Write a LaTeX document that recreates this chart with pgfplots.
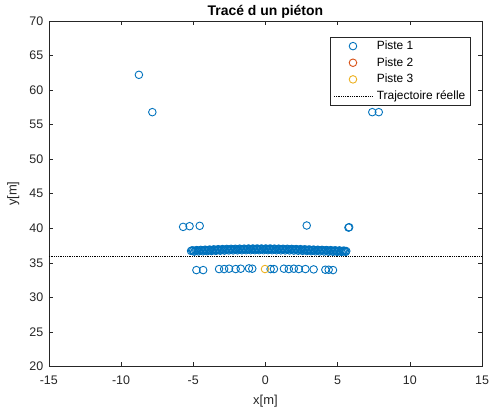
\documentclass[border=0pt]{standalone}
\usepackage{fontspec}
\setmainfont{Liberation Sans}
\usepackage{pgfplots}
\pgfplotsset{compat=1.18}
\definecolor{mblue}{rgb}{0,0.447,0.741}
\definecolor{morange}{rgb}{0.85,0.325,0.098}
\definecolor{myellow}{rgb}{0.929,0.694,0.125}
\definecolor{maxis}{rgb}{0.15,0.15,0.15}
\begin{document}
\begin{tikzpicture}[x=1pt,y=1pt]
\begin{axis}[
  name=ax,
  scale only axis,
  width=435pt, height=347pt,
  xmin=-15, xmax=15, ymin=20, ymax=70,
  xtick={-15,-10,...,15}, ytick={20,25,...,70},
  tick align=inside,
  major tick length=4.5pt,
  axis line style={maxis, line width=0.5pt},
  every tick/.style={maxis, line width=0.5pt},
  tick label style={font=\fontsize{12.5}{14}\selectfont, text=maxis},
  xticklabel style={yshift=-6pt},
  yticklabel style={xshift=-2pt},
  /pgf/number format/assume math mode=true,
  xlabel={x[m]}, ylabel={y[m]},
  label style={font=\fontsize{13}{15}\selectfont, text=maxis},
  xlabel style={at={(axis description cs:0.5,0)}, anchor=north, yshift=-25pt},
  ylabel style={at={(axis description cs:-0.06,0.5)}, anchor=south},
  title={\textbf{Tracé d un piéton}},
  title style={font=\fontsize{14}{16}\selectfont, inner sep=1pt, yshift=-4.5pt},
  legend style={at={(0.9724,0.954)}, anchor=north east, draw=maxis, line width=0.5pt,
    font=\fontsize{12}{14}\selectfont, row sep=3.5pt, column sep=3pt, inner xsep=3pt, inner ysep=2.5pt,
    nodes={inner sep=1.5pt}},
  legend cell align=left,
  legend image code/.code={\draw[mark repeat=2,mark phase=2,#1] plot coordinates {(0pt,0pt) (19pt,0pt) (38pt,0pt)};},
]
\addplot[only marks, mark=o, mark size=3.8pt, mark options={draw=mblue, line width=0.9pt}] coordinates {
(-8.76,62.2) (-7.83,56.8) (7.4,56.8) (7.85,56.8)
(-5.7,40.2) (-5.25,40.3) (-4.55,40.35) (2.86,40.4) (5.75,40.1) (5.8,40.15)
(-5.15,36.72) (-5.0,36.78) (-4.85,36.75) (-4.7,36.80) (-4.55,36.78) (-4.4,36.82) (-4.25,36.80) (-4.1,36.84)
(-3.95,36.82) (-3.8,36.86) (-3.65,36.84) (-3.5,36.88) (-3.35,36.86) (-3.2,36.90) (-3.05,36.88) (-2.9,36.92)
(-2.75,36.90) (-2.6,36.94) (-2.45,36.92) (-2.3,36.95) (-2.15,36.93) (-2.0,36.96) (-1.85,36.94) (-1.7,36.98)
(-1.55,36.95) (-1.4,36.98) (-1.25,36.96) (-1.1,37.0) (-0.95,36.97) (-0.8,37.0) (-0.65,36.98) (-0.5,37.0)
(-0.35,36.98) (-0.2,37.0) (-0.05,36.98) (0.1,37.0) (0.25,36.98) (0.4,37.0) (0.55,36.97) (0.7,36.99)
(0.85,36.96) (1.0,36.98) (1.15,36.95) (1.3,36.97) (1.45,36.94) (1.6,36.96) (1.75,36.93) (1.9,36.95)
(2.05,36.92) (2.2,36.94) (2.35,36.90) (2.5,36.92) (2.65,36.88) (2.8,36.90) (2.95,36.86) (3.1,36.88)
(3.25,36.84) (3.4,36.86) (3.55,36.82) (3.7,36.84) (3.85,36.80) (4.0,36.82) (4.15,36.78) (4.3,36.80)
(4.45,36.76) (4.6,36.78) (4.75,36.74) (4.9,36.76) (5.05,36.72) (5.2,36.74) (5.35,36.70) (5.5,36.72) (5.6,36.70)
(-5.08,36.80) (-4.93,36.62) (-4.78,36.83) (-4.63,36.65) (-4.48,36.87) (-4.33,36.67) (-4.18,36.90) (-4.03,36.69)
(-3.88,36.92) (-3.73,36.71) (-3.58,36.95) (-3.43,36.73) (-3.28,36.97) (-3.13,36.75) (-2.98,36.99) (-2.83,36.77)
(-2.68,37.01) (-2.53,36.79) (-2.38,37.03) (-2.23,36.80) (-2.08,37.03) (-1.93,36.81) (-1.78,37.05) (-1.63,36.82)
(-1.48,37.05) (-1.33,36.83) (-1.18,37.07) (-1.03,36.83) (-0.88,37.07) (-0.73,36.83) (-0.58,37.07) (-0.43,36.83)
(-0.28,37.07) (-0.13,36.83) (0.02,37.07) (0.17,36.83) (0.32,37.07) (0.47,36.83) (0.62,37.05) (0.77,36.82)
(0.92,37.05) (1.07,36.81) (1.22,37.03) (1.37,36.80) (1.52,37.03) (1.67,36.79) (1.82,37.01) (1.97,36.77)
(2.12,36.99) (2.27,36.75) (2.42,36.97) (2.57,36.73) (2.72,36.95) (2.87,36.71) (3.02,36.93) (3.17,36.69)
(3.32,36.91) (3.47,36.67) (3.62,36.89) (3.77,36.65) (3.92,36.87) (4.07,36.63) (4.22,36.85) (4.37,36.61)
(4.52,36.83) (4.67,36.60) (4.82,36.81) (4.97,36.58) (5.12,36.79) (5.27,36.58) (5.42,36.77) (5.55,36.58)
(-4.78,33.95) (-4.31,33.95) (-3.21,34.1) (-2.86,34.1) (-2.52,34.15) (-2.06,34.1) (-1.71,34.15)
(-1.14,34.2) (-0.91,34.15) (0.36,34.1) (0.59,34.1) (1.28,34.15) (1.62,34.1) (1.97,34.15)
(2.31,34.1) (2.77,34.1) (3.34,34.05) (4.15,34.0) (4.38,34.0) (4.68,33.95)
};
\addlegendentry{Piste 1}
\addlegendimage{only marks, mark=o, mark size=3.8pt, mark options={draw=morange, line width=0.9pt}}
\addlegendentry{Piste 2}
\addplot[only marks, mark=o, mark size=3.8pt, mark options={draw=myellow, line width=0.9pt}] coordinates {
(-0.03,34.1)
};
\addlegendentry{Piste 3}
\addplot[black, densely dotted, line width=0.8pt] coordinates {(-15,36) (15,36)};
\addlegendentry{Trajectoire réelle}
\end{axis}
\pgfresetboundingbox
\path ([xshift=-49pt,yshift=-46pt]ax.south west) rectangle ([xshift=7pt,yshift=21pt]ax.north east);
\end{tikzpicture}
\end{document}
